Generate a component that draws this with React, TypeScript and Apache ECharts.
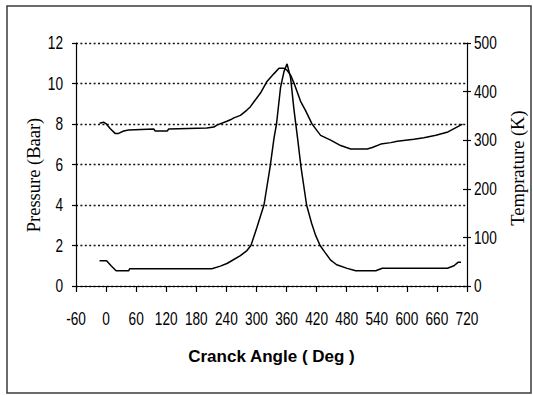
import React, { useEffect, useRef } from "react";
import * as echarts from "echarts";

// Crank angle (deg) and cylinder pressure (bar)
const pressureAngle = [
  -13, 1, 10, 20, 45, 47, 211, 228, 241, 248, 268, 281, 289, 301, 315, 327, 335,
  340, 348, 355, 361, 368, 375, 382, 389, 400, 410, 418, 427, 437, 448, 460, 481,
  498, 538, 551, 681, 694, 702, 708,
];
const pressureBar = [
  1.25, 1.25, 1.0, 0.75, 0.75, 0.85, 0.85, 0.98, 1.11, 1.21, 1.5, 1.75, 2.0, 2.9,
  4.0, 5.85, 7.3, 8.0, 9.8, 10.6, 10.97, 10.3, 8.67, 7.3, 5.85, 4.0, 3.1, 2.5,
  2.0, 1.65, 1.28, 1.05, 0.87, 0.75, 0.75, 0.88, 0.88, 1.0, 1.17, 1.17,
];

// Crank angle (deg) and gas temperature (K)
const tempAngle = [
  -13, -5, 1, 8, 18, 25, 35, 45, 95, 98, 122, 125, 201, 215, 221, 241, 248, 255,
  268, 281, 288, 295, 308, 321, 335, 345, 355, 361, 368, 375, 388, 398, 411, 428,
  448, 468, 488, 521, 531, 548, 568, 581, 614, 634, 658, 682, 698, 711,
];
const tempK = [
  335, 337, 333, 324, 314, 314, 319, 321, 323, 319, 319, 323, 325, 327, 331, 339,
  342, 346, 351, 362, 369, 379, 397, 421, 437, 448, 448, 444, 434, 417, 380, 361,
  333, 310, 300, 289, 282, 282, 285, 292, 295, 298, 302, 305, 310, 317, 326, 333,
];

// Tick labels
const angleLabels = [-60, 0, 60, 120, 180, 240, 300, 360, 420, 480, 540, 600, 660, 720];
const pressureLabels = [0, 2, 4, 6, 8, 10, 12];
const tempLabels = [0, 100, 200, 300, 400, 500];

const TICK_FONT = '"Liberation Sans", Arial, sans-serif';
const SERIF_FONT = '"Liberation Serif", "Times New Roman", serif';
const TICK_SIZE = 17.5;
const NARROW = 0.78;

export default function App() {
  const ref = useRef<HTMLDivElement>(null);

  useEffect(() => {
    if (!ref.current) return;
    const chart = echarts.init(ref.current, null, { renderer: "svg" });

    const pressureData = pressureAngle.map((a, i) => [a, pressureBar[i]]);
    const tempData = tempAngle.map((a, i) => [a, tempK[i]]);
    const tick = { color: "#000", width: 1.2 };

    chart.setOption({
      animation: false,
      backgroundColor: "#fff",
      grid: { left: 76, right: 66, top: 43, bottom: 109, containLabel: false },
      xAxis: {
        type: "value",
        min: angleLabels[0],
        max: angleLabels[angleLabels.length - 1],
        interval: 60,
        name: "Cranck Angle ( Deg )",
        nameLocation: "middle",
        nameGap: 62,
        nameTextStyle: {
          color: "#000",
          fontFamily: TICK_FONT,
          fontSize: 17,
          fontWeight: "bold",
        },
        axisLine: { show: true, onZero: false, lineStyle: tick },
        axisTick: { show: true, length: 6, lineStyle: tick },
        axisLabel: { show: false },
        splitLine: { show: false },
      },
      yAxis: [
        {
          type: "value",
          position: "left",
          min: 0,
          max: 12,
          interval: 2,
          axisLine: { show: true, onZero: false, lineStyle: tick },
          axisTick: { show: true, length: 4, lineStyle: tick },
          axisLabel: { show: false },
          splitLine: {
            show: true,
            lineStyle: { color: "#111", width: 1.4, type: [2, 2.4] },
          },
        },
        {
          type: "value",
          position: "right",
          min: 0,
          max: 500,
          interval: 100,
          axisLine: { show: true, onZero: false, lineStyle: tick },
          axisTick: { show: true, length: 4, lineStyle: tick },
          axisLabel: { show: false },
          splitLine: { show: false },
        },
        {
          // inner half of the crossing ticks on the temperature axis
          type: "value",
          position: "right",
          min: 0,
          max: 500,
          interval: 100,
          axisLine: { show: false, onZero: false },
          axisTick: { show: true, inside: true, length: 4, lineStyle: tick },
          axisLabel: { show: false },
          splitLine: { show: false },
        },
      ],
      series: [
        {
          name: "Pressure",
          type: "line",
          yAxisIndex: 0,
          data: pressureData,
          showSymbol: false,
          lineStyle: { color: "#000", width: 1.5 },
        },
        {
          name: "Temperature",
          type: "line",
          yAxisIndex: 1,
          data: tempData,
          showSymbol: false,
          lineStyle: { color: "#000", width: 1.5 },
        },
      ],
    });

    // Condensed tick labels placed through the axes' own scales
    const tickText = (text: string, x: number, y: number, align: string) => ({
      type: "text",
      x,
      y,
      scaleX: NARROW,
      silent: true,
      style: {
        text,
        fill: "#000",
        font: `${TICK_SIZE}px ${TICK_FONT}`,
        align,
        verticalAlign: "middle",
      },
    });

    const elements: any[] = [
      {
        type: "rect",
        shape: { x: 7, y: 6, width: 524, height: 387 },
        style: { fill: "none", stroke: "#3a3a3a", lineWidth: 1.5 },
        silent: true,
      },
    ];
    angleLabels.forEach((v) => {
      const px = chart.convertToPixel({ xAxisIndex: 0 }, v) as number;
      elements.push(tickText(String(v), px, 319, "center"));
    });
    pressureLabels.forEach((v) => {
      const py = chart.convertToPixel({ yAxisIndex: 0 }, v) as number;
      elements.push(tickText(String(v), 63, py, "right"));
    });
    tempLabels.forEach((v) => {
      const py = chart.convertToPixel({ yAxisIndex: 1 }, v) as number;
      elements.push(tickText(String(v), 474, py, "left"));
    });
    elements.push({
      type: "text",
      x: 34,
      y: 175,
      rotation: Math.PI / 2,
      silent: true,
      style: {
        text: "Pressure (Baar)",
        fill: "#000",
        font: `18.5px ${SERIF_FONT}`,
        align: "center",
        verticalAlign: "middle",
      },
    });
    elements.push({
      type: "text",
      x: 518,
      y: 168,
      rotation: Math.PI / 2,
      silent: true,
      style: {
        text: "Temprature (K)",
        fill: "#000",
        font: `18.5px ${SERIF_FONT}`,
        align: "center",
        verticalAlign: "middle",
      },
    });

    chart.setOption({ graphic: { elements } });

    return () => chart.dispose();
  }, []);

  return (
    <div
      ref={ref}
      style={{ position: "absolute", left: 0, top: 0, width: 533, height: 395, background: "#fff" }}
    />
  );
}
